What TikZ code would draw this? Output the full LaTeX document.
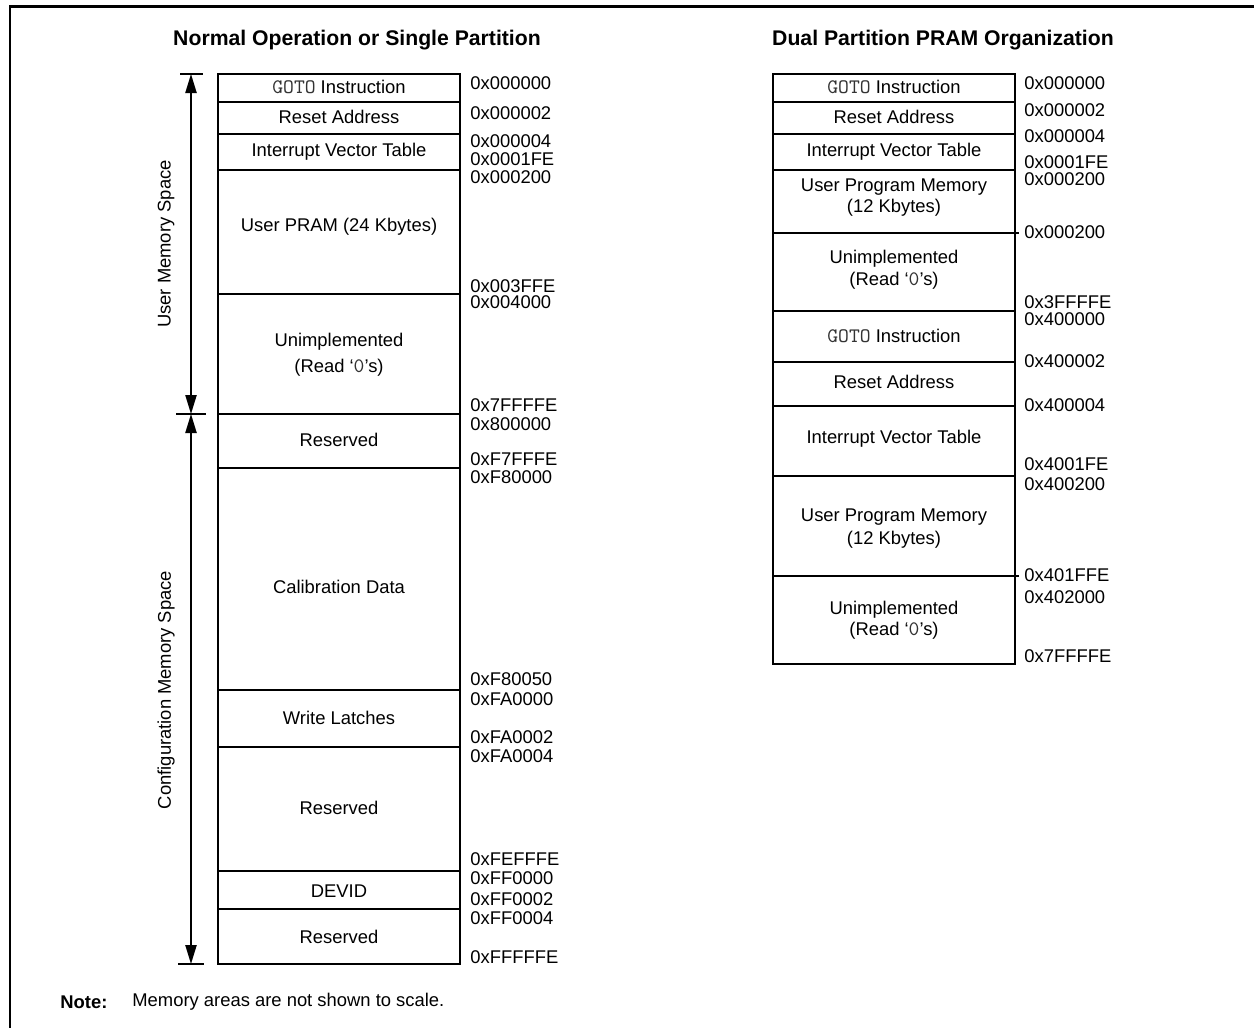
\documentclass[tikz,border=0pt]{standalone}
\usepackage{fontspec}
\setmainfont{Liberation Sans}
\usetikzlibrary{arrows.meta}
\newcommand{\gototxt}{{\ttfamily\fontsize{10.3}{11}\selectfont\color{black!80}GOTO}}
\newcommand{\zerotxt}{{\ttfamily\fontsize{10.3}{11}\selectfont\color{black!80}0}}
\begin{document}
\begin{tikzpicture}[x=0.5pt,y=-0.5pt,
  font=\fontsize{9.2}{11}\selectfont,
  box/.style={draw=black,line width=0.9pt},
  lbl/.style={inner sep=0pt,align=center},
  addr/.style={inner sep=0pt,anchor=west},
  ttl/.style={inner sep=0pt,font=\fontsize{10.6}{12}\selectfont\bfseries},
  dim/.style={line width=0.8pt,{Triangle[length=9.5pt,width=5.6pt]}-{Triangle[length=9.5pt,width=5.6pt]}},
  tick/.style={line width=0.8pt}]
\useasboundingbox (0,0) rectangle (1254,1028);
% frame
\draw[line width=1.2pt] (10,1030) -- (10,6.5) -- (1256,6.5);
% titles
\node[ttl] (t1) at (357,40) {Normal Operation or Single Partition};
\node[ttl] (t2) at (943,40) {Dual Partition PRAM Organization};
% ---------- left column ----------
\draw[box] (218,74) rectangle (460,964);
\foreach \yy in {102,134,170,294,414,468,690,747,871,909}
  \draw[box] (218,\yy) -- (460,\yy);
\node[lbl] (L1) at (339,87) {\gototxt{} Instruction};
\node[lbl] (L2) at (339,117) {Reset Address};
\node[lbl] (L3) at (339,152) {Interrupt Vector Table};
\node[lbl] (L4) at (339,227) {User PRAM (24 Kbytes)};
\node[lbl] (L5) at (339,342) {Unimplemented};
\node[lbl] (L5b) at (339,368) {(Read `\zerotxt's)};
\node[lbl] (L6) at (339,440) {Reserved};
\node[lbl] (L7) at (339,587) {Calibration Data};
\node[lbl] (L8) at (339,718) {Write Latches};
\node[lbl] (L9) at (339,808) {Reserved};
\node[lbl] (L10) at (339,891) {DEVID};
\node[lbl] (L11) at (339,937) {Reserved};
% left addresses
\node[addr] (A1) at (470,83) {0x000000};
\node[addr] (A2) at (470,113) {0x000002};
\node[addr] (A3) at (470,141) {0x000004};
\node[addr] (A4) at (470,159) {0x0001FE};
\node[addr] (A5) at (470,177) {0x000200};
\node[addr] (A6) at (470,286) {0x003FFE};
\node[addr] (A7) at (470,302) {0x004000};
\node[addr] (A8) at (470,405) {0x7FFFFE};
\node[addr] (A9) at (470,424) {0x800000};
\node[addr] (A10) at (470,459) {0xF7FFFE};
\node[addr] (A11) at (470,477) {0xF80000};
\node[addr] (A12) at (470,679) {0xF80050};
\node[addr] (A13) at (470,699) {0xFA0000};
\node[addr] (A14) at (470,737) {0xFA0002};
\node[addr] (A15) at (470,756) {0xFA0004};
\node[addr] (A16) at (470,859) {0xFEFFFE};
\node[addr] (A17) at (470,878) {0xFF0000};
\node[addr] (A18) at (470,899) {0xFF0002};
\node[addr] (A19) at (470,918) {0xFF0004};
\node[addr] (A20) at (470,957) {0xFFFFFE};
% dimension arrows
\coordinate (dTop) at (191,74);
\coordinate (dMid) at (191,414);
\coordinate (dBot) at (191,964);
\draw[tick] (180,74) -- (203,74);
\draw[tick] (176,414) -- (206,414);
\draw[tick] (178,964) -- (204,964);
\draw[dim] (dTop) -- (dMid);
\draw[dim] (dMid) -- (dBot);
\node[inner sep=0pt,rotate=90] (ums) at (166,244) {User Memory Space};
\node[inner sep=0pt,rotate=90] (cms) at (166,690) {Configuration Memory Space};
% ---------- right column ----------
\draw[box] (773,74) rectangle (1015,664);
\foreach \yy in {102,134,170,311,362,406,476}
  \draw[box] (773,\yy) -- (1015,\yy);
\draw[box] (773,233) -- (1019,233);
\draw[box] (773,576) -- (1019,576);
\node[lbl] (R1) at (894,87) {\gototxt{} Instruction};
\node[lbl] (R2) at (894,117) {Reset Address};
\node[lbl] (R3) at (894,152) {Interrupt Vector Table};
\node[lbl] (R4) at (894,187) {User Program Memory};
\node[lbl] (R4b) at (894,208) {(12 Kbytes)};
\node[lbl] (R5) at (894,259) {Unimplemented};
\node[lbl] (R5b) at (894,281) {(Read `\zerotxt's)};
\node[lbl] (R6) at (894,336) {\gototxt{} Instruction};
\node[lbl] (R7) at (894,382) {Reset Address};
\node[lbl] (R8) at (894,439) {Interrupt Vector Table};
\node[lbl] (R9) at (894,517) {User Program Memory};
\node[lbl] (R9b) at (894,540) {(12 Kbytes)};
\node[lbl] (R10) at (894,610) {Unimplemented};
\node[lbl] (R10b) at (894,631) {(Read `\zerotxt's)};
% right addresses
\node[addr] (B1) at (1024,83) {0x000000};
\node[addr] (B2) at (1024,110) {0x000002};
\node[addr] (B3) at (1024,136) {0x000004};
\node[addr] (B4) at (1024,162) {0x0001FE};
\node[addr] (B5) at (1024,179) {0x000200};
\node[addr] (B6) at (1024,232) {0x000200};
\node[addr] (B7) at (1024,302) {0x3FFFFE};
\node[addr] (B8) at (1024,319) {0x400000};
\node[addr] (B9) at (1024,361) {0x400002};
\node[addr] (B10) at (1024,405) {0x400004};
\node[addr] (B11) at (1024,464) {0x4001FE};
\node[addr] (B12) at (1024,484) {0x400200};
\node[addr] (B13) at (1024,575) {0x401FFE};
\node[addr] (B14) at (1024,597) {0x402000};
\node[addr] (B15) at (1024,656) {0x7FFFFE};
% note
\node[addr] (N1) at (60,1002) {\bfseries Note:};
\node[addr] (N2) at (132,1002) {Memory areas are not shown to scale.};
\end{tikzpicture}
\end{document}
